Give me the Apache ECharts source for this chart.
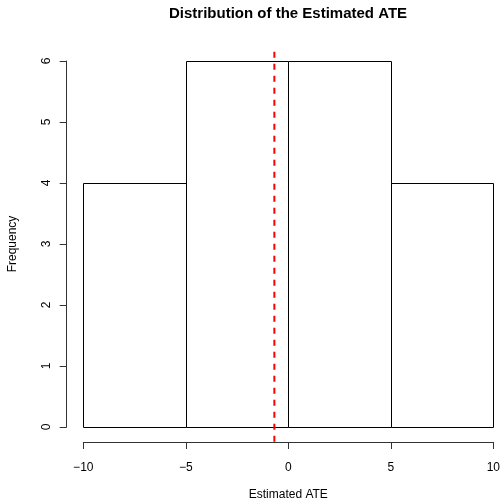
<!DOCTYPE html>
<html>
<head>
<meta charset="utf-8">
<script src="https://cdn.jsdelivr.net/npm/echarts@6/dist/echarts.min.js"></script>
<style>html,body{margin:0;padding:0;background:#fff}#c{width:501px;height:501px}</style>
</head>
<body>
<div id="c"></div>
<script>
const binStarts = [-10, -5, 0, 5];
const binEnds = [-5, 0, 5, 10];
const frequencies = [4, 6, 6, 4];
const meanATE = -0.68;
const xTicks = [-10, -5, 0, 5, 10];
const yTicks = [0, 1, 2, 3, 4, 5, 6];

const FONT = 'Liberation Sans, Arial, sans-serif';
const histData = binStarts.map((s, i) => [s, binEnds[i], frequencies[i]]);

const chart = echarts.init(document.getElementById('c'));
chart.setOption({
  animation: false,
  backgroundColor: '#fff',
  title: {
    text: 'Distribution of the Estimated ATE',
    left: 169, top: 6, padding: 0,
    textStyle: { fontFamily: FONT, fontSize: 15, fontWeight: 'bold', color: '#000' }
  },
  grid: { left: 83.3, right: 7.7, top: 61, bottom: 74, outerBoundsMode: 'none', containLabel: false },
  xAxis: {
    type: 'value', min: xTicks[0], max: xTicks[xTicks.length - 1], interval: 5,
    offset: 15,
    name: 'Estimated ATE', nameLocation: 'middle', nameGap: 47,
    nameTextStyle: { fontFamily: FONT, fontSize: 12, color: '#000' },
    axisLine: { show: true, onZero: false, lineStyle: { color: '#333', width: 1 } },
    axisTick: { show: true, length: 7, lineStyle: { color: '#333', width: 1 } },
    axisLabel: { fontFamily: FONT, fontSize: 12, color: '#000', margin: 20,
      formatter: v => (v < 0 ? '\u2212' + Math.abs(v) : String(v)) },
    splitLine: { show: false }
  },
  yAxis: {
    type: 'value', min: yTicks[0], max: yTicks[yTicks.length - 1], interval: 1,
    offset: 16.6,
    name: 'Frequency', nameLocation: 'middle', nameGap: 48, nameRotate: 90,
    nameTextStyle: { fontFamily: FONT, fontSize: 12, color: '#000' },
    axisLine: { show: true, onZero: false, lineStyle: { color: '#333', width: 1 } },
    axisTick: { show: true, length: 7, lineStyle: { color: '#333', width: 1 } },
    axisLabel: { fontFamily: FONT, fontSize: 12, color: '#000', margin: 14, rotate: 90 },
    splitLine: { show: false }
  },
  series: [
    {
      type: 'custom',
      data: histData,
      clip: false,
      renderItem: function (params, api) {
        const p0 = api.coord([api.value(0), 0]);
        const p1 = api.coord([api.value(1), api.value(2)]);
        return {
          type: 'rect',
          shape: { x: Math.round(p0[0]) + 0.5, y: Math.round(p1[1]) + 0.5,
                   width: Math.round(p1[0]) - Math.round(p0[0]), height: Math.round(p0[1]) - Math.round(p1[1]) },
          style: { fill: '#fff', stroke: '#000', lineWidth: 1 }
        };
      }
    },
    {
      type: 'line',
      data: [[meanATE, -0.24], [meanATE, 6.24]],
      clip: false,
      symbol: 'none',
      z: 5,
      lineStyle: { color: '#ff0000', width: 2, type: [6, 6] }
    }
  ]
});
</script>
</body>
</html>
